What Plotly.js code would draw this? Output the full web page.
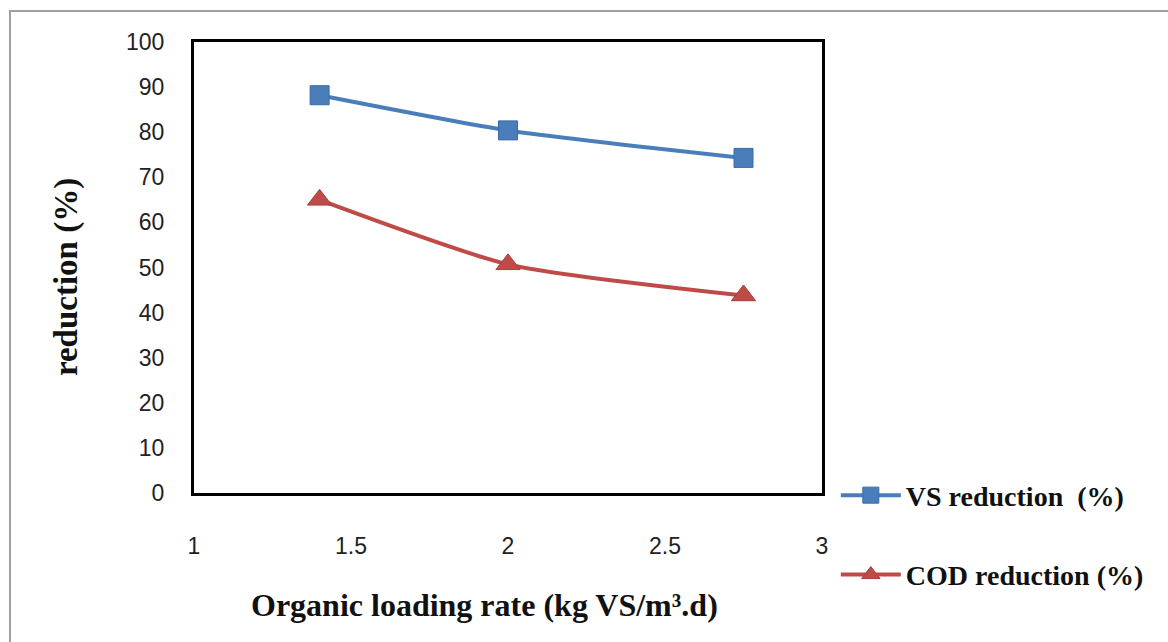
<!DOCTYPE html>
<html>
<head>
<meta charset="utf-8">
<script src="https://cdn.plot.ly/plotly-3.0.1.min.js"></script>
<style>
html,body{margin:0;padding:0;background:#fff;}
#wrap{position:relative;width:1168px;height:642px;}
#chart{position:absolute;left:0;top:0;width:1168px;height:642px;}
#frame{position:absolute;left:9px;top:10px;width:1170px;height:640px;border:2px solid #a0a0a0;pointer-events:none;box-sizing:border-box;}
</style>
</head>
<body>
<div id="wrap"><div id="chart"></div><div id="frame"></div></div>
<script>
const loadingRate = [1.4, 2.0, 2.75];
const vsReduction = [88.2, 80.4, 74.3];
const codReduction = [65.0, 50.7, 43.8];
const seriesNames = ["VS reduction  (%)", "COD reduction (%)"];
const xTicks = [1, 1.5, 2, 2.5, 3];
const yTicks = [0, 10, 20, 30, 40, 50, 60, 70, 80, 90, 100];
const xTitle = "Organic loading rate (kg VS/m³.d)";
const yTitle = "reduction (%)";

const traces = [
  {x: loadingRate, y: vsReduction, name: "<b>" + seriesNames[0] + "</b>", mode: "lines+markers",
   type: "scatter", legendgroup: "a",
   line: {color: "#4A7EBB", width: 4, shape: "spline", smoothing: 0.6},
   marker: {symbol: "square", size: 19, color: "#4A7EBB", line: {color: "#3A6AA8", width: 1}}},
  {x: loadingRate, y: codReduction, name: "<b>" + seriesNames[1] + "</b>", mode: "lines+markers",
   type: "scatter", legendgroup: "b",
   line: {color: "#BE4B48", width: 4, shape: "spline", smoothing: 0.6},
   marker: {symbol: "triangle-up", size: 21, color: "#BE4B48", line: {color: "#A83E3B", width: 1}}}
];

const layout = {
  width: 1168, height: 642,
  margin: {l: 194, r: 346, t: 42, b: 149},
  paper_bgcolor: "#ffffff", plot_bgcolor: "#ffffff",
  showlegend: true,
  legend: {x: 1.022, xanchor: "left", y: 0.05, yanchor: "top",
           font: {family: "Liberation Serif", size: 28, color: "#111"},
           tracegroupgap: 40, itemwidth: 60, bgcolor: "rgba(0,0,0,0)"},
  xaxis: {range: [1, 3], tickvals: xTicks, ticktext: xTicks.map(String),
          showgrid: false, zeroline: false, showline: true, mirror: true,
          linecolor: "#000", linewidth: 3, ticks: "",
          ticklabelstandoff: 30,
          tickfont: {family: "Liberation Sans", size: 23, color: "#222"}},
  yaxis: {range: [0, 100], tickvals: yTicks, ticktext: yTicks.map(String),
          showgrid: false, zeroline: false, showline: true, mirror: true,
          linecolor: "#000", linewidth: 3, ticks: "",
          ticklabelstandoff: 22,
          tickfont: {family: "Liberation Sans", size: 23, color: "#222"}},
  annotations: [
    {text: "<b>" + xTitle + "</b>", xref: "paper", yref: "paper",
     x: 0.463, y: -0.248, xanchor: "center", yanchor: "middle", showarrow: false,
     font: {family: "Liberation Serif", size: 32, color: "#111"}},
    {text: "<b>" + yTitle + "</b>", xref: "paper", yref: "paper", textangle: -90,
     x: -0.202, y: 0.479, xanchor: "center", yanchor: "middle", showarrow: false,
     font: {family: "Liberation Serif", size: 33, color: "#111"}}
  ]
};

Plotly.newPlot("chart", traces, layout, {displayModeBar: false, staticPlot: true});
</script>
</body>
</html>
